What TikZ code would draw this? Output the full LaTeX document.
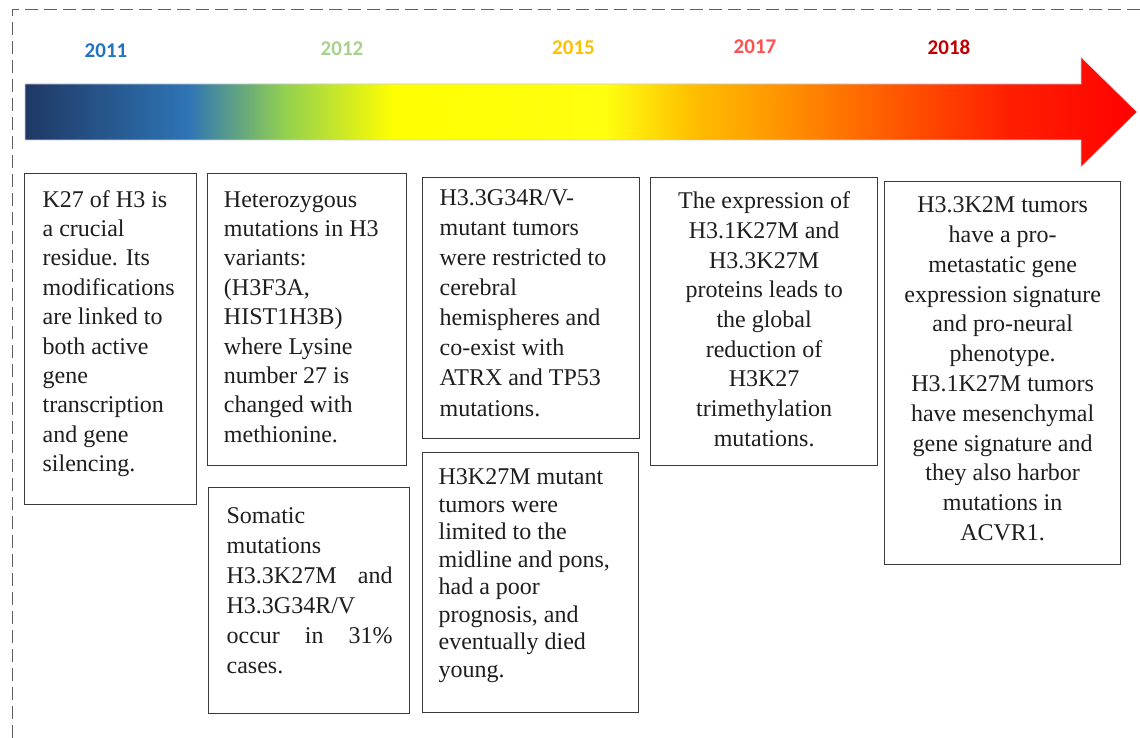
\documentclass[tikz,border=0pt]{standalone}
\usepackage{fontspec}
\setmainfont{Liberation Serif}
\newfontfamily\bodyfont{Liberation Serif}
\newfontfamily\yearfont{Carlito}
\definecolor{g0}{HTML}{1F3864}
\definecolor{g1}{HTML}{2E75B6}
\definecolor{g2}{HTML}{92D050}
\definecolor{g3}{HTML}{FFFF00}
\definecolor{g4}{HTML}{FFFF10}
\definecolor{g5}{HTML}{FFC000}
\definecolor{g6}{HTML}{FF9000}
\definecolor{g7}{HTML}{FF6000}
\definecolor{g8}{HTML}{FF2000}
\definecolor{g9}{HTML}{FF0000}
\definecolor{y11}{HTML}{2273C4}
\definecolor{y12}{HTML}{A9D18E}
\definecolor{y15}{HTML}{FFC000}
\definecolor{y17}{HTML}{FF5050}
\definecolor{y18}{HTML}{C00000}
\definecolor{boxc}{HTML}{3A3A3A}
\definecolor{txt}{HTML}{1E1E1E}
\definecolor{framec}{HTML}{606060}
% #1 width, #2 height, #3 left pad, #4 right pad, #5 first baseline offset, #6 baselineskip, #7 text
\newcommand\leftpar[7]{\parbox[c][#2][t]{#1}{\bodyfont\fontsize{24}{#6}\selectfont\raggedright\leftskip=#3\relax\rightskip=#4 plus 1fil\relax\rule{0pt}{#5}#7}}
% #1 width, #2 height, #3 first baseline offset, #4 baselineskip, #5 text
\newcommand\ctrpar[5]{\parbox[c][#2][t]{#1}{\bodyfont\fontsize{24}{#4}\selectfont\centering\rule{0pt}{#3}#5}}
\begin{document}
\begin{tikzpicture}[x=1pt,y=-1pt,
  tbox/.style={draw=boxc, line width=1.3pt, inner sep=0pt, anchor=north west, text=txt, fill=white, font=\bodyfont},
  yearlbl/.style={font=\yearfont\bfseries\fontsize{21}{24}\selectfont, inner sep=0pt},
  framestyle/.style={draw=framec, line width=1pt, dash pattern=on 13pt off 6pt}]
\useasboundingbox (0,0) rectangle (1140,738);
\fill[white] (0,0) rectangle (1140,738);
\draw[framestyle] (12,738) -- (12,10) -- (1140,10);

% year labels
\node[yearlbl, text=y11] (y2011) at (106,50.5) {2011};
\node[yearlbl, text=y12] (y2012) at (342,48.5) {2012};
\node[yearlbl, text=y15] (y2015) at (573.5,47.5) {2015};
\node[yearlbl, text=y17] (y2017) at (755,47) {2017};
\node[yearlbl, text=y18] (y2018) at (949,47) {2018};

% timeline arrow
\begin{scope}
\clip (25,84) -- (1081,84) -- (1081,57) -- (1137,112) -- (1081,167) -- (1081,140) -- (25,140) -- cycle;
\foreach \xa/\ca/\xb/\cb in {25/g0/189/g1, 189/g1/284/g2, 284/g2/393/g3, 393/g3/606/g4, 606/g4/690/g5, 690/g5/788/g6, 788/g6/879/g7, 879/g7/1006/g8, 1006/g8/1138/g9}
  {\shade[left color=\ca, right color=\cb] (\xa-0.6,50) rectangle (\xb+0.6,175);}
\end{scope}
\draw[blue!12!gray!35, line width=0.6pt] (25,84) -- (1081,84) -- (1081,57) -- (1137,112) -- (1081,167) -- (1081,140) -- (25,140) -- cycle;

% boxes
\node[tbox] (b1) at (23.5,173) {\leftpar{172.5pt}{331pt}{18.5pt}{6pt}{33.5pt}{29.4pt}{K27 of H3 is\\a crucial\\residue. Its\\modifications\\are linked to\\both active\\gene\\transcription\\and gene\\silencing.}};
\node[tbox] (b2) at (206.7,173) {\leftpar{199.3pt}{292pt}{16.6pt}{6pt}{33.5pt}{29.4pt}{Heterozygous\\mutations in H3\\variants:\\(H3F3A,\\HIST1H3B)\\where Lysine\\number 27 is\\changed with\\methionine.}};
\node[tbox] (b3) at (208,487) {\leftpar{201pt}{226pt}{18pt}{17pt}{36pt}{29.9pt}{Somatic\\mutations\\H3.3K27M\hfill and\\H3.3G34R/V\\occur\hfill in\hfill 31\%\\cases.}};
\node[tbox] (b4) at (421.7,176.7) {\leftpar{217.3pt}{261pt}{17.3pt}{6pt}{28pt}{30.1pt}{H3.3G34R/V-\\mutant tumors\\were restricted to\\cerebral\\hemispheres and\\co-exist with\\ATRX and TP53\\mutations.}};
\node[tbox] (b5) at (422,452) {\leftpar{216pt}{260pt}{16pt}{6pt}{32pt}{27.5pt}{H3K27M mutant\\tumors were\\limited to the\\midline and pons,\\had a poor\\prognosis, and\\eventually died\\young.}};
\node[tbox] (b6) at (650,177) {\ctrpar{227pt}{288pt}{31pt}{29.7pt}{The expression of\\H3.1K27M and\\H3.3K27M\\proteins leads to\\the global\\reduction of\\H3K27\\trimethylation\\mutations.}};
\node[tbox] (b7) at (884,181) {\ctrpar{236pt}{383pt}{31pt}{29.8pt}{H3.3K2M tumors\\have a pro-\\metastatic gene\\expression signature\\and pro-neural\\phenotype.\\H3.1K27M tumors\\have mesenchymal\\gene signature and\\they also harbor\\mutations in\\ACVR1.}};
\end{tikzpicture}
\end{document}
